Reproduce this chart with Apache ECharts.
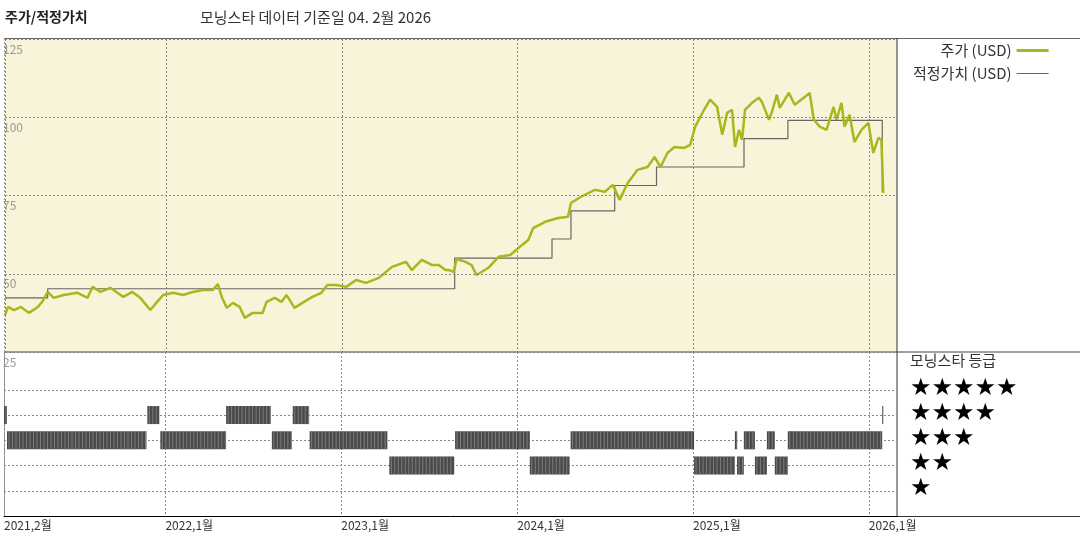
<!DOCTYPE html>
<html><head><meta charset="utf-8">
<script src="https://cdn.jsdelivr.net/npm/echarts@6/dist/echarts.min.js"></script>
<style>html,body{margin:0;padding:0;background:#fff}#c{width:1080px;height:540px}</style>
</head><body><div id="c"></div>
<script>
// time as decimal year
const priceT = [2021.082,2021.099,2021.133,2021.173,2021.218,2021.269,2021.297,2021.325,2021.359,2021.416,2021.495,2021.552,2021.580,2021.626,2021.682,2021.756,2021.807,2021.852,2021.909,2021.948,2021.982,2022.039,2022.096,2022.152,2022.209,2022.265,2022.294,2022.316,2022.345,2022.379,2022.418,2022.447,2022.492,2022.549,2022.571,2022.617,2022.656,2022.685,2022.730,2022.775,2022.832,2022.883,2022.917,2022.968,2023.024,2023.081,2023.137,2023.211,2023.251,2023.285,2023.364,2023.398,2023.455,2023.511,2023.551,2023.590,2023.607,2023.636,2023.653,2023.704,2023.738,2023.766,2023.834,2023.891,2023.959,2024.004,2024.061,2024.089,2024.157,2024.231,2024.287,2024.304,2024.361,2024.440,2024.497,2024.542,2024.581,2024.627,2024.683,2024.740,2024.780,2024.814,2024.853,2024.893,2024.949,2024.983,2025.011,2025.062,2025.096,2025.136,2025.165,2025.193,2025.221,2025.238,2025.261,2025.278,2025.295,2025.335,2025.374,2025.391,2025.431,2025.448,2025.476,2025.493,2025.544,2025.578,2025.629,2025.663,2025.686,2025.720,2025.759,2025.799,2025.816,2025.844,2025.861,2025.890,2025.918,2025.958,2025.997,2026.025,2026.054,2026.071,2026.082];
const priceV = [36.8,39.4,38.4,39.4,37.5,39.4,41.3,44.2,42.3,43.2,43.9,42.3,45.8,44.2,45.5,42.6,44.2,42.3,38.4,41.0,43.2,43.9,43.2,44.2,44.8,44.8,46.7,42.6,39.1,40.7,39.4,35.9,37.5,37.5,41.0,42.3,41.0,43.2,39.1,40.7,42.6,43.9,46.4,46.4,45.8,48.0,47.1,48.7,50.6,52.2,53.8,51.2,54.4,52.8,52.8,51.2,51.2,50.6,54.7,53.8,52.8,49.6,51.9,55.4,56.0,58.2,60.8,64.6,66.6,67.8,68.2,72.6,74.6,76.8,76.2,78.4,73.6,79.0,83.2,84.1,87.3,84.1,88.6,90.5,90.2,91.2,97.0,102.4,105.6,103.3,94.4,101.4,102.4,90.5,96.0,92.8,102.4,104.6,106.2,104.9,99.2,101.7,107.2,103.0,107.8,104.0,106.2,107.8,99.2,97.0,96.0,103.3,99.2,104.6,97.0,100.8,92.1,96.0,98.2,88.6,93.4,92.8,75.8];
const fairT = [2021.082,2021.325,2023.642,2024.196,2024.304,2024.553,2024.791,2025.289,2025.539,2026.076];
const fairV = [42.3,45.2,55.0,61.1,70.1,78.2,84.1,93.2,99.0,76.0];
// rating intervals: start, end, stars
const ratingStart = [2021.082,2021.099,2021.897,2021.971,2022.345,2022.605,2022.724,2022.820,2023.273,2023.647,2024.072,2024.304,2025.006,2025.238,2025.250,2025.289,2025.352,2025.420,2025.465,2025.539,2026.076];
const ratingEnd   = [2021.099,2021.892,2021.965,2022.345,2022.599,2022.718,2022.815,2023.262,2023.642,2024.072,2024.298,2025.006,2025.238,2025.250,2025.289,2025.352,2025.420,2025.465,2025.539,2026.076,2026.082];
const ratingStars = [4,3,4,3,4,3,4,3,2,3,2,3,2,3,2,3,2,3,2,3,4];
const tickVals = [2021.082,2022,2023,2024,2025,2026];
const tickLabels = ['2021,2월','2022,1월','2023,1월','2024,1월','2025,1월','2026,1월'];

const XMIN=2021.082, XMAX=2026.16;
const dash={type:[2,2],color:'#888',width:1};
const font='"Noto Sans CJK KR", sans-serif';
const chart=echarts.init(document.getElementById('c'),null,{renderer:'canvas'});
chart.setOption({
  animation:false,
  textStyle:{fontFamily:font},
  grid:[
    {left:4,right:183,top:39,height:313,show:true,backgroundColor:'#f8f4d9',borderColor:'#888',borderWidth:0},
    {left:4,right:183,top:352,bottom:24,show:false}
  ],
  xAxis:[
    {type:'value',gridIndex:0,min:XMIN,max:XMAX,axisLine:{show:false},axisLabel:{show:false},
     axisTick:{show:false,customValues:tickVals},splitLine:{show:true,lineStyle:dash}},
    {type:'value',gridIndex:1,min:XMIN,max:XMAX,axisLine:{show:true,lineStyle:{color:'#000'}},
     axisTick:{show:false,customValues:tickVals},splitLine:{show:true,lineStyle:dash},
     axisLabel:{customValues:tickVals,align:'left',margin:3,fontSize:12,color:'#333',
       formatter:v=>{let i=tickVals.findIndex(t=>Math.abs(t-v)<0.01);return i>=0?tickLabels[i]:'';}}}
  ],
  yAxis:[
    {type:'value',gridIndex:0,min:25,max:125,interval:25,axisLine:{show:false},axisTick:{show:false},z:5,
     splitLine:{lineStyle:dash},axisLabel:{inside:true,verticalAlign:'top',margin:-2,padding:[4,0,0,0],fontSize:12,color:'#999',showMinLabel:true}},
    {type:'value',gridIndex:1,min:0,max:6.5,axisLine:{show:false},axisTick:{show:false},axisLabel:{show:false},splitLine:{show:false}}
  ],
  legend:{orient:'vertical',left:908,top:38,align:'right',itemWidth:32,itemHeight:10,itemGap:8,
    icon:'rect',textStyle:{fontSize:15,color:'#333',fontFamily:font},
    data:[{name:'주가 (USD)',icon:'path://M0,4L32,4L32,7L0,7Z'},{name:'적정가치 (USD)',icon:'path://M0,5L32,5L32,6L0,6Z'}]},
  series:[
    {name:'적정가치 (USD)',type:'line',step:'end',xAxisIndex:0,yAxisIndex:0,showSymbol:false,
     lineStyle:{color:'#666',width:1.2},itemStyle:{color:'#666'},data:fairT.map((t,i)=>[t,fairV[i]])},
    {name:'주가 (USD)',type:'line',xAxisIndex:0,yAxisIndex:0,showSymbol:false,
     lineStyle:{color:'#abb51e',width:2.5},itemStyle:{color:'#abb51e'},data:priceT.map((t,i)=>[t,priceV[i]])},
    {name:'rating',type:'custom',xAxisIndex:1,yAxisIndex:1,
     data:ratingStart.map((s,i)=>[s,ratingEnd[i],ratingStars[i]]),
     renderItem:(params,api)=>{
       const a=api.coord([api.value(0),api.value(2)]), b=api.coord([api.value(1),api.value(2)]);
       const w=Math.max(1,b[0]-a[0]);
       const children=[{type:'rect',shape:{x:a[0],y:a[1]-9,width:w,height:18},style:{fill:'#4a4a4a'}}];
       for(let x=a[0]+2;x<a[0]+w;x+=3.5){children.push({type:'line',shape:{x1:x,y1:a[1]-9,x2:x,y2:a[1]+9},style:{stroke:'#8a8a8a',lineWidth:0.8}});}
       return {type:'group',children};
     },
     markLine:{silent:true,symbol:'none',label:{show:false},lineStyle:dash,z:0,
       data:[{yAxis:1},{yAxis:2},{yAxis:3},{yAxis:4},{yAxis:5}]}}
  ],
  graphic:[
    {type:'text',left:5,top:10,style:{text:'주가/적정가치',fontSize:14,fontWeight:'bold',fill:'#222',fontFamily:font}},
    {type:'text',left:200,top:10,style:{text:'모닝스타 데이터 기준일 04. 2월 2026',fontSize:15,fill:'#333',fontFamily:font}},
    {type:'line',shape:{x1:4,y1:38.5,x2:1080,y2:38.5},style:{stroke:'#666',lineWidth:1}},
    {type:'line',shape:{x1:4,y1:352,x2:1080,y2:352},style:{stroke:'#444',lineWidth:1}},
    {type:'line',shape:{x1:897,y1:38,x2:897,y2:516},style:{stroke:'#333',lineWidth:1}},
    {type:'line',shape:{x1:897,y1:516.5,x2:1080,y2:516.5},style:{stroke:'#333',lineWidth:1}},
    {type:'line',shape:{x1:4.5,y1:38,x2:4.5,y2:516},style:{stroke:'#999',lineWidth:1,lineDash:[2,2]}},
    {type:'text',left:910,top:353,style:{text:'모닝스타 등급',fontSize:15,fill:'#333',fontFamily:font}},
    {type:'text',left:910,top:377,style:{text:'★★★★★',fontSize:24,fill:'#000',fontFamily:'DejaVu Sans'}},
    {type:'text',left:910,top:402,style:{text:'★★★★',fontSize:24,fill:'#000',fontFamily:'DejaVu Sans'}},
    {type:'text',left:910,top:427,style:{text:'★★★',fontSize:24,fill:'#000',fontFamily:'DejaVu Sans'}},
    {type:'text',left:910,top:452,style:{text:'★★',fontSize:24,fill:'#000',fontFamily:'DejaVu Sans'}},
    {type:'text',left:910,top:477,style:{text:'★',fontSize:24,fill:'#000',fontFamily:'DejaVu Sans'}}
  ]
});
</script></body></html>
